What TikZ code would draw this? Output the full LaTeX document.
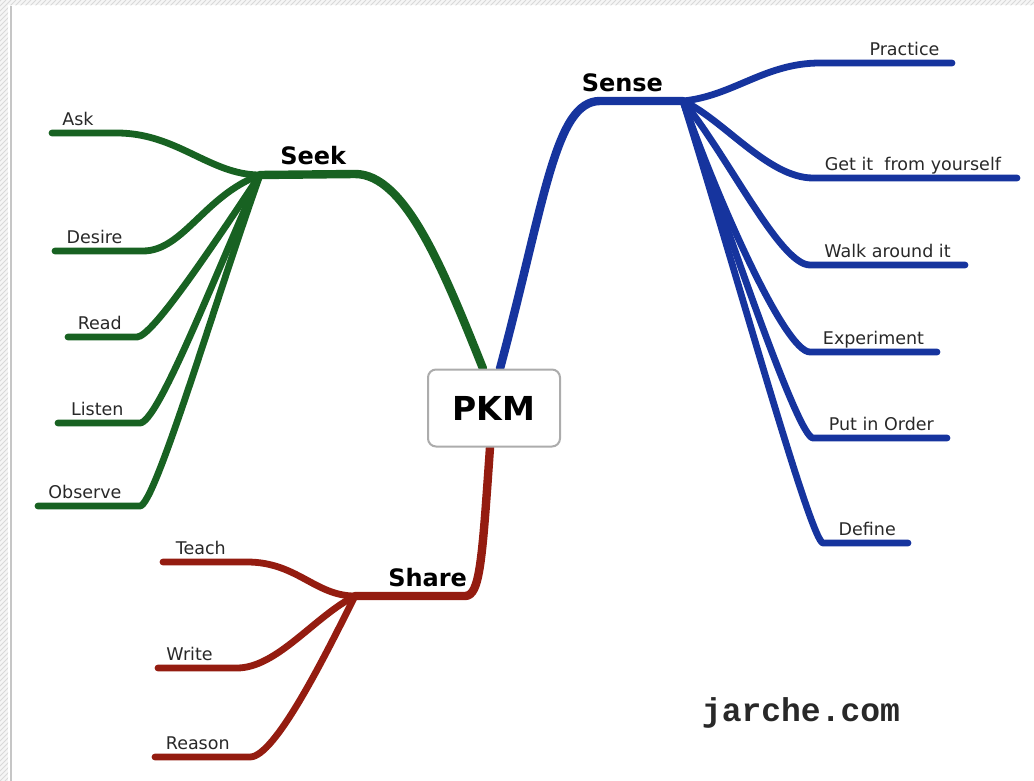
\documentclass[tikz,border=0pt]{standalone}
\usepackage{fontspec}
\setmainfont{DejaVu Sans}
\newfontfamily\stampfont{Liberation Mono}
\usetikzlibrary{
    backgrounds     % branches go under the root box
}
\definecolor{seekgreen}{RGB}{24,98,34}
\definecolor{senseblue}{RGB}{22,52,158}
\definecolor{sharered}{RGB}{148,28,16}
\definecolor{leaftext}{RGB}{40,40,40}
\newcommand{\px}{0.5pt}
\tikzset{
    trunk line/.style={line width=4.2pt, line cap=round, line join=round},
    twig line/.style={line width=3.4pt, line cap=round, line join=round},
    leaf label/.style={anchor=base, yshift=3.8pt, inner sep=0pt, text=leaftext,
        font=\fontsize{8.75}{10}\selectfont},
    branch label/.style={anchor=base, yshift=4.8pt, inner sep=0pt, text=black,
        font=\fontsize{12}{14}\selectfont\bfseries},
    root node/.style={draw=gray!65, line width=1pt, rounded corners=4pt, fill=white,
        minimum width=66pt, minimum height=38.5pt,
        font=\fontsize{16.5}{18}\selectfont\bfseries},
    stamp/.style={text=leaftext, font=\fontsize{16.5}{18}\selectfont\stampfont\bfseries},
    hatch/.style={gray!30, line width=0.4pt}
}

\begin{document}
\begin{tikzpicture}[x=\px, y=-\px]
    \useasboundingbox (0,0) rectangle (1034,781);

    % hatched frame top and left
    \fill[gray!8] (0,0) rectangle (1034,5.5);
    \fill[gray!8] (0,0) rectangle (8,781);
    \begin{scope}
        \clip (0,0) rectangle (1034,5.5) (0,0) rectangle (8,781);
        \foreach \k in {-790,-785,...,1035}
            \draw[hatch] (\k,781) -- ++(781,-781);
    \end{scope}
    \draw[gray!45, line width=1pt] (10.5,6) -- (10.5,781);

    % root
    \node[root node] (pkm) at (494,408) {PKM};

    \begin{scope}[on background layer]
    % Seek branch
    \coordinate (seek-root) at ([xshift=-5.5pt]pkm.north);
    \coordinate (seek-bend) at (355,174);
    \coordinate (seek-hub)  at (260,175);
    \draw[trunk line, seekgreen] (seek-root) .. controls +(-40,-100) and +(50,0) .. (seek-bend)
        -- node[branch label, pos=0.44] (seek) {Seek} (seek-hub);

    \coordinate (ask-a) at (117,133);     \coordinate (ask-b) at (52,133);
    \coordinate (desire-a) at (143,251);  \coordinate (desire-b) at (55,251);
    \coordinate (read-a) at (137,337);    \coordinate (read-b) at (68,337);
    \coordinate (listen-a) at (140,423);  \coordinate (listen-b) at (58,423);
    \coordinate (observe-a) at (140,506); \coordinate (observe-b) at (38,506);
    \draw[twig line, seekgreen] (seek-hub) .. controls +(-50,0) and +(60,0) .. (ask-a)
        -- node[leaf label, pos=0.6] (ask) {Ask} (ask-b);
    \draw[twig line, seekgreen] (seek-hub) .. controls +(-55,20) and +(40,0) .. (desire-a)
        -- node[leaf label, pos=0.55] (desire) {Desire} (desire-b);
    \draw[twig line, seekgreen] (seek-hub) .. controls +(-50,75) and +(15,0) .. (read-a)
        -- node[leaf label, pos=0.54] (read) {Read} (read-b);
    \draw[twig line, seekgreen] (seek-hub) .. controls +(-45,100) and +(18,0) .. (listen-a)
        -- node[leaf label, pos=0.52] (listen) {Listen} (listen-b);
    \draw[twig line, seekgreen] (seek-hub) .. controls +(-43,120) and +(15,0) .. (observe-a)
        -- node[leaf label, pos=0.54] (observe) {Observe} (observe-b);

    % Sense branch
    \coordinate (sense-root) at ([xshift=3pt]pkm.north);
    \coordinate (sense-bend) at (600,101);
    \coordinate (sense-hub)  at (683,101);
    \draw[trunk line, senseblue] (sense-root) .. controls +(45,-168) and +(-45,0) .. (sense-bend)
        -- node[branch label, pos=0.27] (sense) {Sense} (sense-hub);

    \coordinate (practice-a) at (820,63); \coordinate (practice-b) at (952,63);
    \coordinate (getit-a) at (813,178);   \coordinate (getit-b) at (1017,178);
    \coordinate (walk-a) at (810,265);    \coordinate (walk-b) at (965,265);
    \coordinate (exper-a) at (810,352);   \coordinate (exper-b) at (937,352);
    \coordinate (order-a) at (813,438);   \coordinate (order-b) at (947,438);
    \coordinate (define-a) at (823,543);  \coordinate (define-b) at (908,543);
    \draw[twig line, senseblue] (sense-hub) .. controls +(50,-5) and +(-55,0) .. (practice-a)
        -- node[leaf label, pos=0.64] (practice) {Practice} (practice-b);
    \draw[twig line, senseblue] (sense-hub) .. controls +(40,18) and +(-45,0) .. (getit-a)
        -- node[leaf label, pos=0.49] (getit) {Get it~ from yourself} (getit-b);
    \draw[twig line, senseblue] (sense-hub) .. controls +(45,55) and +(-30,0) .. (walk-a)
        -- node[leaf label, pos=0.5] (walk) {Walk around it} (walk-b);
    \draw[twig line, senseblue] (sense-hub) .. controls +(35,100) and +(-25,0) .. (exper-a)
        -- node[leaf label, pos=0.5] (exper) {Experiment} (exper-b);
    \draw[twig line, senseblue] (sense-hub) .. controls +(45,130) and +(-15,0) .. (order-a)
        -- node[leaf label, pos=0.51] (order) {Put in Order} (order-b);
    \draw[twig line, senseblue] (sense-hub) .. controls +(50,160) and +(-12,0) .. (define-a)
        -- node[leaf label, pos=0.52] (define) {Define} (define-b);

    % Share branch
    \coordinate (share-root) at ([xshift=-2pt]pkm.south);
    \coordinate (share-bend) at (465,596);
    \coordinate (share-hub)  at (355,596);
    \draw[trunk line, sharered] (share-root) .. controls +(-8,114) and +(15,0) .. (share-bend)
        -- node[branch label, pos=0.34] (share) {Share} (share-hub);

    \coordinate (teach-a) at (247,562);   \coordinate (teach-b) at (163,562);
    \coordinate (write-a) at (237,668);   \coordinate (write-b) at (158,668);
    \coordinate (reason-a) at (250,757);  \coordinate (reason-b) at (155,757);
    \draw[twig line, sharered] (share-hub) .. controls +(-40,0) and +(50,0) .. (teach-a)
        -- node[leaf label, pos=0.55] (teach) {Teach} (teach-b);
    \draw[twig line, sharered] (share-hub) .. controls +(-40,20) and +(40,0) .. (write-a)
        -- node[leaf label, pos=0.6] (write) {Write} (write-b);
    \draw[twig line, sharered] (share-hub) .. controls +(-30,60) and +(25,0) .. (reason-a)
        -- node[leaf label, pos=0.55] (reason) {Reason} (reason-b);
    \end{scope}

    % site stamp
    \node[stamp] (site) at (801,713) {jarche.com};
\end{tikzpicture}
\end{document}
